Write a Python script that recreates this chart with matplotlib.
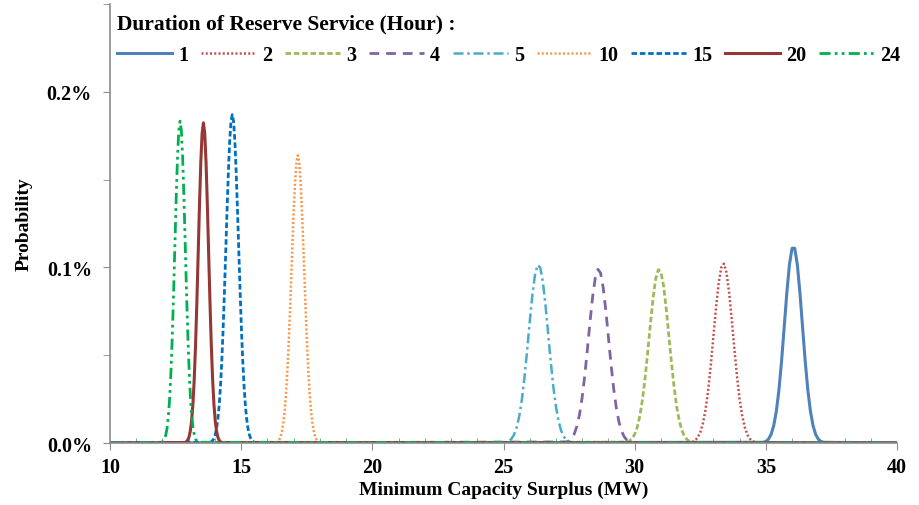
import numpy as np
import matplotlib
matplotlib.use("Agg")
import matplotlib.pyplot as plt
from matplotlib.ticker import MultipleLocator, FuncFormatter

# Duration of reserve service (hours) -> probability curve of minimum capacity surplus
# y values are in percent; x grid = start, start+step, ...
durations = ["1", "2", "3", "4", "5", "10", "15", "20", "24"]

x_start = [34.9, 32.1, 29.7, 27.4, 25.1, 16.31, 13.81, 12.86, 11.97]
x_step = [0.1, 0.1, 0.1, 0.1, 0.1, 0.05, 0.05, 0.05, 0.05]

prob_1 = [0.0004, 0.0009, 0.0022, 0.0049, 0.0098, 0.0181, 0.0303, 0.0467, 0.0660, 0.0855, 0.1017, 0.1109,
          0.1109, 0.1017, 0.0855, 0.0660, 0.0467, 0.0303, 0.0181, 0.0098, 0.0049, 0.0022, 0.0009, 0.0004]
prob_2 = [0.0003, 0.0006, 0.0014, 0.0031, 0.0060, 0.0111, 0.0189, 0.0299, 0.0441, 0.0604, 0.0768, 0.0909, 0.0999,
          0.1021, 0.0971, 0.0857, 0.0704, 0.0537, 0.0381, 0.0251, 0.0154, 0.0088, 0.0046, 0.0023, 0.0010, 0.0004]
prob_3 = [0.0005, 0.0012, 0.0025, 0.0050, 0.0091, 0.0156, 0.0250, 0.0374, 0.0522, 0.0679, 0.0824, 0.0934, 0.0987,
          0.0973, 0.0896, 0.0769, 0.0616, 0.0461, 0.0321, 0.0209, 0.0127, 0.0072, 0.0038, 0.0019, 0.0009, 0.0004]
prob_4 = [0.0006, 0.0013, 0.0027, 0.0053, 0.0097, 0.0164, 0.0262, 0.0388, 0.0537, 0.0694, 0.0837, 0.0942, 0.0989,
          0.0968, 0.0885, 0.0755, 0.0600, 0.0446, 0.0309, 0.0200, 0.0120, 0.0068, 0.0036, 0.0017, 0.0008, 0.0003]
prob_5 = [0.0005, 0.0011, 0.0023, 0.0047, 0.0088, 0.0153, 0.0248, 0.0375, 0.0527, 0.0691, 0.0843, 0.0958, 0.1014,
          0.0999, 0.0918, 0.0785, 0.0625, 0.0464, 0.0320, 0.0206, 0.0124, 0.0069, 0.0036, 0.0017, 0.0008, 0.0003]
prob_10 = [0.0003, 0.0006, 0.0012, 0.0023, 0.0042, 0.0072, 0.0119, 0.0187, 0.0282, 0.0409, 0.0566, 0.0750, 0.0952,
           0.1157, 0.1347, 0.1502, 0.1603, 0.1638, 0.1603, 0.1502, 0.1347, 0.1157, 0.0952, 0.0750, 0.0566, 0.0409,
           0.0282, 0.0187, 0.0119, 0.0072, 0.0042, 0.0023, 0.0012, 0.0006, 0.0003]
prob_15 = [0.0004, 0.0007, 0.0014, 0.0027, 0.0048, 0.0082, 0.0135, 0.0213, 0.0322, 0.0466, 0.0646, 0.0856, 0.1087,
           0.1321, 0.1538, 0.1715, 0.1830, 0.1870, 0.1830, 0.1715, 0.1538, 0.1321, 0.1087, 0.0856, 0.0646, 0.0466,
           0.0322, 0.0213, 0.0135, 0.0082, 0.0048, 0.0027, 0.0014, 0.0007, 0.0004]
prob_20 = [0.0003, 0.0007, 0.0016, 0.0034, 0.0068, 0.0127, 0.0222, 0.0364, 0.0558, 0.0801, 0.1077, 0.1356, 0.1598,
           0.1764, 0.1823, 0.1764, 0.1598, 0.1356, 0.1077, 0.0801, 0.0558, 0.0364, 0.0222, 0.0127, 0.0068, 0.0034,
           0.0016, 0.0007, 0.0003]
prob_24 = [0.0004, 0.0009, 0.0020, 0.0042, 0.0080, 0.0146, 0.0248, 0.0396, 0.0595, 0.0839, 0.1112, 0.1384, 0.1618,
           0.1777, 0.1833, 0.1777, 0.1618, 0.1384, 0.1112, 0.0839, 0.0595, 0.0396, 0.0248, 0.0146, 0.0080, 0.0042,
           0.0020, 0.0009, 0.0004]

probs = [prob_1, prob_2, prob_3, prob_4, prob_5, prob_10, prob_15, prob_20, prob_24]

colors = ["#4F81BD", "#C0504D", "#9BBB59", "#8064A2", "#4BACC6", "#F79646", "#0070C0", "#953735", "#00B050"]
styles = ["-", (0, (0.8, 0.9)), (0, (2, 1)), (0, (3.5, 2.5)), (0, (4, 1.5, 1, 1.5)),
          (0, (0.8, 0.9)), (0, (2, 1)), "-", (0, (4, 1.5, 1, 1.5, 1, 1.5))]
widths = [2.2, 1.8, 2.0, 2.0, 1.8, 1.8, 2.0, 2.2, 2.0]

SERIF = ["Liberation Serif", "DejaVu Serif"]


def make_plot():
    plt.rcParams["font.family"] = SERIF
    plt.rcParams["font.weight"] = "bold"
    fig = plt.figure(figsize=(9.2, 5.06), dpi=100)
    ax = fig.add_axes([0.1196, 0.1225, 0.8554, 0.8677])

    for i, name in enumerate(durations):
        y = probs[i]
        x = x_start[i] + x_step[i] * np.arange(len(y))
        xs = np.concatenate([[10], x, [40]])
        ys = np.concatenate([[0], y, [0]])
        ax.plot(xs, ys, color=colors[i], linestyle=styles[i], linewidth=widths[i], label=name)

    ax.set_xlim(10, 40)
    ax.set_ylim(0, 0.25)
    ax.xaxis.set_major_locator(MultipleLocator(5))
    ax.xaxis.set_minor_locator(MultipleLocator(1))
    ax.yaxis.set_major_locator(MultipleLocator(0.1))
    ax.yaxis.set_minor_locator(MultipleLocator(0.05))
    ax.yaxis.set_major_formatter(FuncFormatter(lambda v, p: "%.1f%%" % v))

    for s in ["top", "right"]:
        ax.spines[s].set_visible(False)
    for s in ["left", "bottom"]:
        ax.spines[s].set_color("#8C8C8C")
        ax.spines[s].set_linewidth(1.2)

    ax.tick_params(axis="x", which="major", direction="out", length=5, color="#8C8C8C",
                   labelsize=14.5, pad=5)
    ax.tick_params(axis="x", which="minor", direction="in", length=3.5, color="#8C8C8C")
    ax.tick_params(axis="y", which="both", direction="out", length=5, color="#8C8C8C",
                   labelsize=14.5, pad=8)

    ax.set_xlabel("Minimum Capacity Surplus (MW)", fontsize=14, fontweight="bold", labelpad=3)
    ax.set_ylabel("Probability", fontsize=14, fontweight="bold", labelpad=10)

    fig.legend(loc="upper left", bbox_to_anchor=(0.127, 0.972), ncol=9, frameon=False,
               title="Duration of Reserve Service (Hour) :", fontsize=14.5,
               title_fontproperties={"family": SERIF, "weight": "bold", "size": 15.5},
               handlelength=2.75, handletextpad=0.3, columnspacing=0.62,
               alignment="left", borderaxespad=0, borderpad=0, labelspacing=0.6)
    fig.savefig("out.png", dpi=100)


def main():
    make_plot()


if __name__ == "__main__":
    main()
